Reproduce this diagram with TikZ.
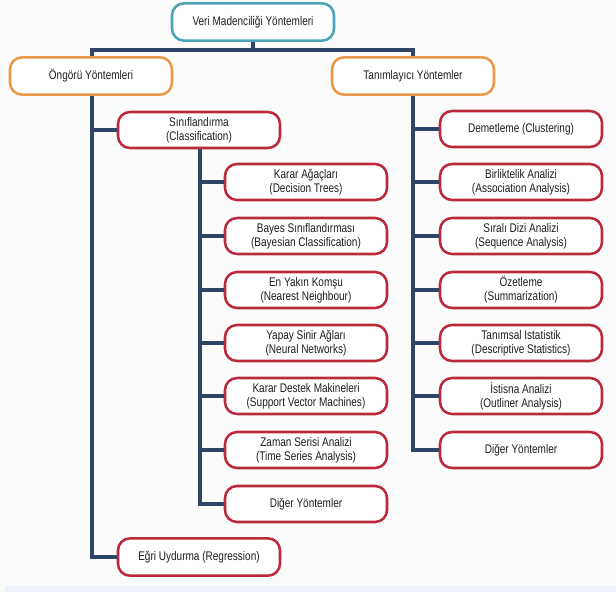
\documentclass[tikz,border=0pt]{standalone}
\usepackage{fontspec}
\setmainfont[FakeStretch=0.8]{Liberation Sans}
\definecolor{navy}{RGB}{47,69,101}
\definecolor{redb}{RGB}{186,42,58}
\definecolor{orangeb}{RGB}{232,152,72}
\definecolor{tealb}{RGB}{76,162,182}
\definecolor{band}{RGB}{237,242,251}
\definecolor{bg}{RGB}{251,251,251}
\definecolor{txt}{RGB}{30,30,30}
\tikzset{
  box/.style={draw=redb, line width=1.9pt, fill=white, rounded corners=9pt,
    minimum width=121.5pt, minimum height=27pt, align=center, inner sep=1pt,
    text=txt, font=\fontsize{9.4pt}{10.5pt}\selectfont},
  obox/.style={box, draw=orangeb, minimum height=28pt},
  tbox/.style={box, draw=tealb, minimum height=28pt},
  conn/.style={draw=navy, line width=2.4pt},
}
\begin{document}
\begin{tikzpicture}[x=0.75pt,y=-0.75pt]
\fill[bg] (0,0) rectangle (616,592);
\fill[band] (5,586) rectangle (616,592);
\useasboundingbox (0,0) rectangle (616,592);

\node[tbox] (top) at (253,22) {Veri Madenciliği Yöntemleri};
\node[obox] (ong) at (91,76) {Öngörü Yöntemleri};
\node[obox] (tan) at (413,76) {Tanımlayıcı Yöntemler};

\node[box] (sin) at (199,130) {Sınıflandırma\\(Classification)};
\node[box] (l1) at (306,182) {Karar Ağaçları\\(Decision Trees)};
\node[box] (l2) at (306,236) {Bayes Sınıflandırması\\(Bayesian Classification)};
\node[box] (l3) at (306,290) {En Yakın Komşu\\(Nearest Neighbour)};
\node[box] (l4) at (306,343) {Yapay Sinir Ağları\\(Neural Networks)};
\node[box] (l5) at (306,396) {Karar Destek Makineleri\\(Support Vector Machines)};
\node[box] (l6) at (306,450) {Zaman Serisi Analizi\\(Time Series Analysis)};
\node[box] (l7) at (306,504) {Diğer Yöntemler};
\node[box, minimum height=28pt] (egr) at (199,557) {Eğri Uydurma (Regression)};

\node[box] (r1) at (521,129) {Demetleme (Clustering)};
\node[box] (r2) at (521,182) {Birliktelik Analizi\\(Association Analysis)};
\node[box] (r3) at (521,236) {Sıralı Dizi Analizi\\(Sequence Analysis)};
\node[box] (r4) at (521,290) {Özetleme\\(Summarization)};
\node[box] (r5) at (521,343) {Tanımsal Istatistik\\(Descriptive Statistics)};
\node[box] (r6) at (521,396) {İstisna Analizi\\(Outliner Analysis)};
\node[box] (r7) at (521,450) {Diğer Yöntemler};

\coordinate (hl) at (92,50);
\coordinate (hr) at (413,50);

% top level
\draw[conn] (top.south) -- (top.south |- hl);
\draw[conn] (ong.north -| hl) -- (hl) -- (hr) -- (tan.north -| hr);

% left trunk
\draw[conn] (ong.south -| hl) -- (hl |- egr) -- (egr.west);
\draw[conn] (hl |- sin) -- (sin.west);

% classification sub trunk
\coordinate (st) at (200,0);
\draw[conn] (sin.south -| st) -- (st |- l7) -- (l7.west);
\foreach \n in {l1,l2,l3,l4,l5,l6}
  \draw[conn] (st |- \n) -- (\n.west);

% right trunk
\draw[conn] (tan.south -| hr) -- (hr |- r7) -- (r7.west);
\foreach \n in {r1,r2,r3,r4,r5,r6}
  \draw[conn] (hr |- \n) -- (\n.west);
\end{tikzpicture}
\end{document}
